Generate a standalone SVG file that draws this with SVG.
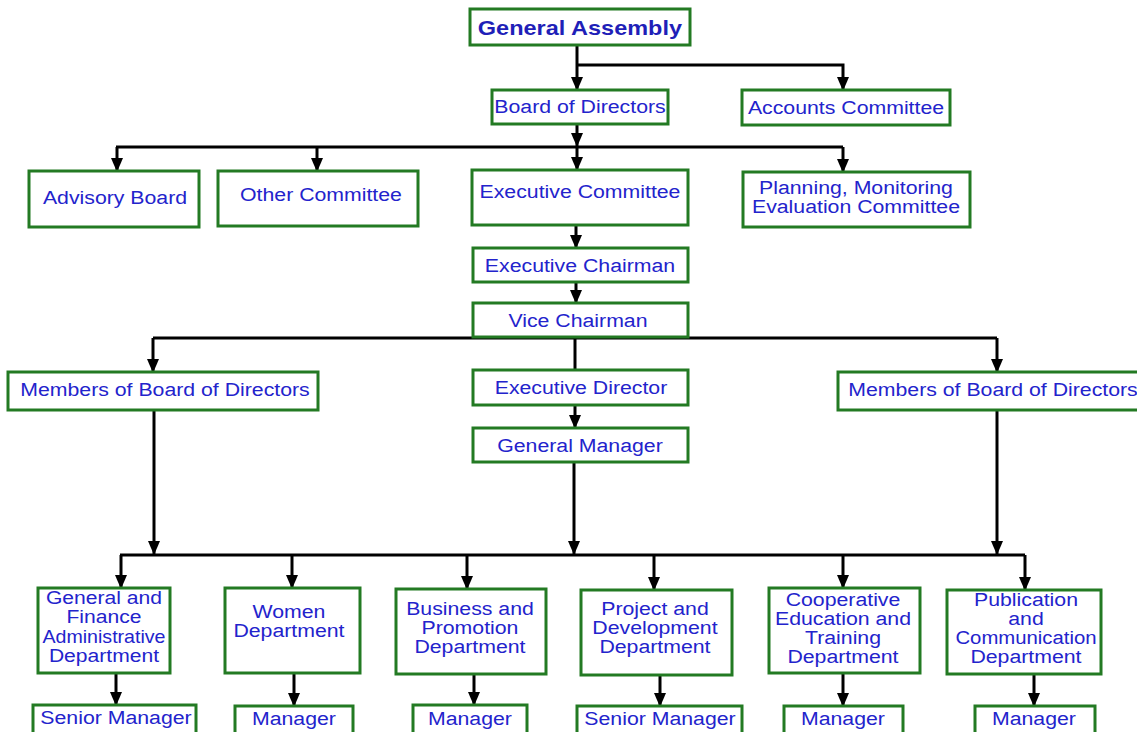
<svg xmlns="http://www.w3.org/2000/svg" width="1137" height="732" viewBox="0 0 1137 732">
<style>
.box{fill:#fff;stroke:#237a23;stroke-width:3}
text{font-family:"Liberation Sans",Arial,sans-serif;font-size:19px;fill:#2323cc;text-anchor:middle;transform-box:fill-box;transform-origin:center;transform:scaleX(1.12)}
text.b{font-weight:bold;font-size:21px;fill:#1f1fb8}
text.s{font-size:18.5px;transform:scaleX(1.14)}
text.n{font-size:18.5px;transform:scaleX(1.06)}
text.m{transform:scaleX(1.07)}
.c path{fill:none;stroke:#000;stroke-width:3}
</style>
<defs>
<marker id="ah" viewBox="0 0 14 12" refX="13" refY="6" markerWidth="14" markerHeight="12" markerUnits="userSpaceOnUse" orient="auto">
<path d="M0,0 L14,6 L0,12 z" fill="#000"/>
</marker>
</defs>
<rect width="1137" height="732" fill="#fff"/>
<g class="c" id="connectors">
<path d="M577,46 V90" marker-end="url(#ah)"/>
<path d="M577,65 H843 V90" marker-end="url(#ah)"/>
<path d="M577,124 V146" marker-end="url(#ah)"/>
<path d="M116,147 H843"/>
<path d="M117,147 V171" marker-end="url(#ah)"/>
<path d="M317,147 V171" marker-end="url(#ah)"/>
<path d="M577,147 V170" marker-end="url(#ah)"/>
<path d="M843,147 V172" marker-end="url(#ah)"/>
<path d="M576,225 V248" marker-end="url(#ah)"/>
<path d="M576,282 V303" marker-end="url(#ah)"/>
<path d="M153,338 H997"/>
<path d="M153,338 V372" marker-end="url(#ah)"/>
<path d="M997,338 V372" marker-end="url(#ah)"/>
<path d="M575,337 V370"/>
<path d="M575,405 V428" marker-end="url(#ah)"/>
<path d="M154,410 V554" marker-end="url(#ah)"/>
<path d="M574,462 V554" marker-end="url(#ah)"/>
<path d="M997,410 V554" marker-end="url(#ah)"/>
<path d="M120,555 H1025"/>
<path d="M121,555 V588" marker-end="url(#ah)"/>
<path d="M292,555 V588" marker-end="url(#ah)"/>
<path d="M467,555 V589" marker-end="url(#ah)"/>
<path d="M654,555 V590" marker-end="url(#ah)"/>
<path d="M843,555 V588" marker-end="url(#ah)"/>
<path d="M1025,555 V590" marker-end="url(#ah)"/>
<path d="M116,673 V705" marker-end="url(#ah)"/>
<path d="M294,673 V706" marker-end="url(#ah)"/>
<path d="M474,674 V705" marker-end="url(#ah)"/>
<path d="M660,675 V706" marker-end="url(#ah)"/>
<path d="M843,673 V706" marker-end="url(#ah)"/>
<path d="M1034,674 V706" marker-end="url(#ah)"/>
</g>
<g id="general-assembly"><rect class="box" x="470" y="9" width="220" height="36"/><text class="b" x="580" y="35">General Assembly</text></g>
<g id="board-of-directors"><rect class="box" x="492" y="90" width="176" height="34"/><text x="580" y="113">Board of Directors</text></g>
<g id="accounts-committee"><rect class="box" x="742" y="90" width="208" height="35"/><text x="846" y="114">Accounts Committee</text></g>
<g id="advisory-board"><rect class="box" x="29" y="171" width="170" height="56"/><text x="115" y="204">Advisory Board</text></g>
<g id="other-committee"><rect class="box" x="218" y="171" width="200" height="55"/><text x="321" y="201">Other Committee</text></g>
<g id="executive-committee"><rect class="box" x="472" y="170" width="216" height="55"/><text x="580" y="198">Executive Committee</text></g>
<g id="planning-committee"><rect class="box" x="743" y="172" width="227" height="55"/><text x="856" y="194">Planning, Monitoring</text><text x="856" y="213">Evaluation Committee</text></g>
<g id="executive-chairman"><rect class="box" x="473" y="248" width="215" height="34"/><text x="580" y="272">Executive Chairman</text></g>
<g id="vice-chairman"><rect class="box" x="473" y="303" width="215" height="34"/><text x="578" y="327">Vice Chairman</text></g>
<g id="members-left"><rect class="box" x="8" y="372" width="310" height="38"/><text x="165" y="396">Members of Board of Directors</text></g>
<g id="executive-director"><rect class="box" x="473" y="370" width="215" height="35"/><text x="581" y="394">Executive Director</text></g>
<g id="members-right"><rect class="box" x="838" y="372" width="320" height="38"/><text x="993" y="396">Members of Board of Directors</text></g>
<g id="general-manager"><rect class="box" x="473" y="428" width="215" height="34"/><text x="580" y="452">General Manager</text></g>
<g id="dept-general-finance"><rect class="box" x="38" y="588" width="132" height="85"/><text class="s" x="104" y="604">General and</text><text class="s" x="104" y="623">Finance</text><text class="n" x="104" y="643">Administrative</text><text class="s" x="104" y="662">Department</text></g>
<g id="dept-women"><rect class="box" x="225" y="588" width="135" height="85"/><text x="289" y="618">Women</text><text x="289" y="637">Department</text></g>
<g id="dept-business"><rect class="box" x="396" y="589" width="150" height="85"/><text x="470" y="615">Business and</text><text x="470" y="634">Promotion</text><text x="470" y="653">Department</text></g>
<g id="dept-project"><rect class="box" x="581" y="590" width="151" height="85"/><text x="655" y="615">Project and</text><text x="655" y="634">Development</text><text x="655" y="653">Department</text></g>
<g id="dept-cooperative"><rect class="box" x="769" y="588" width="151" height="85"/><text x="843" y="606">Cooperative</text><text x="843" y="625">Education and</text><text x="843" y="644">Training</text><text x="843" y="663">Department</text></g>
<g id="dept-publication"><rect class="box" x="947" y="590" width="154" height="84"/><text x="1026" y="606">Publication</text><text x="1026" y="625">and</text><text class="m" x="1026" y="644">Communication</text><text x="1026" y="663">Department</text></g>
<g id="mgr-1"><rect class="box" x="33" y="705" width="163" height="32"/><text x="116" y="724">Senior Manager</text></g>
<g id="mgr-2"><rect class="box" x="235" y="706" width="118" height="32"/><text x="294" y="725">Manager</text></g>
<g id="mgr-3"><rect class="box" x="413" y="705" width="114" height="32"/><text x="470" y="725">Manager</text></g>
<g id="mgr-4"><rect class="box" x="577" y="706" width="165" height="32"/><text x="660" y="725">Senior Manager</text></g>
<g id="mgr-5"><rect class="box" x="784" y="706" width="119" height="32"/><text x="843" y="725">Manager</text></g>
<g id="mgr-6"><rect class="box" x="975" y="706" width="120" height="32"/><text x="1034" y="725">Manager</text></g>
</svg>
